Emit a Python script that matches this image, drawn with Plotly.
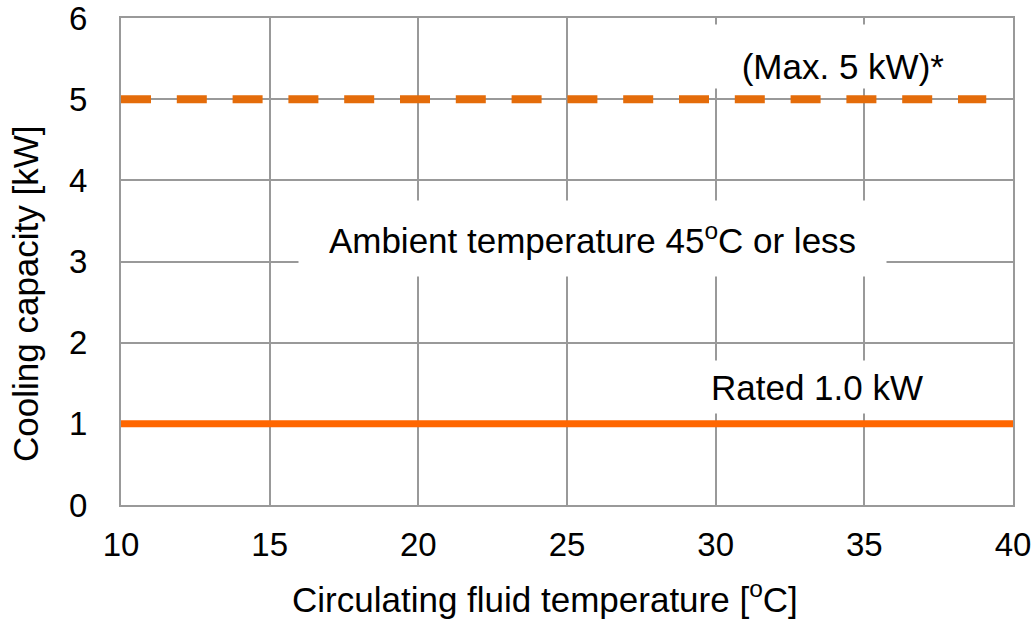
import plotly.graph_objects as go

# Data
rated_x = [10, 40]
rated_y = [1.0, 1.0]
max_x = [10, 39.1]
max_y = [5.0, 5.0]
x_ticks = [10, 15, 20, 25, 30, 35, 40]
y_ticks = [0, 1, 2, 3, 4, 5, 6]

FONT = "Liberation Sans"
GRID = "#999999"

fig = go.Figure()
fig.add_trace(go.Scatter(x=max_x, y=max_y, mode="lines",
                         line=dict(color="#E46C0A", width=8, dash="30px,25.8px"),
                         hoverinfo="skip", showlegend=False))
fig.add_trace(go.Scatter(x=rated_x, y=rated_y, mode="lines",
                         line=dict(color="#FF6600", width=7),
                         hoverinfo="skip", showlegend=False))

fig.update_layout(
    width=1035, height=634, autosize=False,
    margin=dict(l=121, r=22, t=18, b=129),
    paper_bgcolor="white", plot_bgcolor="white",
    font=dict(family=FONT, color="black"),
    showlegend=False,
)
fig.update_xaxes(range=[10, 40], tickvals=x_ticks, showgrid=True, gridcolor=GRID, gridwidth=2,
                 showline=True, linecolor=GRID, linewidth=2, mirror=True, zeroline=False,
                 automargin=False, ticklabeloverflow="allow",
                 ticks="", ticklabelstandoff=9, tickfont=dict(size=33, family=FONT))
fig.update_yaxes(range=[0, 6], tickvals=y_ticks, showgrid=True, gridcolor=GRID, gridwidth=2,
                 showline=True, linecolor=GRID, linewidth=2, mirror=True, zeroline=False,
                 automargin=False, ticklabeloverflow="allow",
                 ticks="", ticklabelstandoff=25, tickfont=dict(size=33, family=FONT))

# Axis titles
fig.add_annotation(text="Circulating fluid temperature [<sup>o</sup>C]", xref="paper", yref="paper",
                   x=(545 - 121) / 892, y=-(597 - 505) / 487, showarrow=False,
                   xanchor="center", yanchor="middle", font=dict(size=35, family=FONT))
fig.add_annotation(text="Cooling capacity [kW]", xref="paper", yref="paper",
                   x=(25 - 121) / 892, y=(505 - 294) / 487, showarrow=False, textangle=-90,
                   xanchor="center", yanchor="middle", font=dict(size=35, family=FONT))

# Labels with white background
fig.add_annotation(text="Ambient temperature 45<sup>o</sup>C or less", x=25.86, y=3.283,
                   showarrow=False, bgcolor="white", width=585, height=73,
                   font=dict(size=35, family=FONT))
fig.add_annotation(text="(Max. 5 kW)*", x=34.29, y=5.525, showarrow=False, bgcolor="white",
                   width=270, height=59, valign="bottom", borderpad=2,
                   font=dict(size=35, family=FONT))
fig.add_annotation(text="Rated 1.0 kW", x=33.41, y=1.45, showarrow=False, bgcolor="white",
                   width=240, height=50, font=dict(size=35, family=FONT))

fig.write_html("out.html", config={"displayModeBar": False},
               post_script="document.body.style.margin='0';")
